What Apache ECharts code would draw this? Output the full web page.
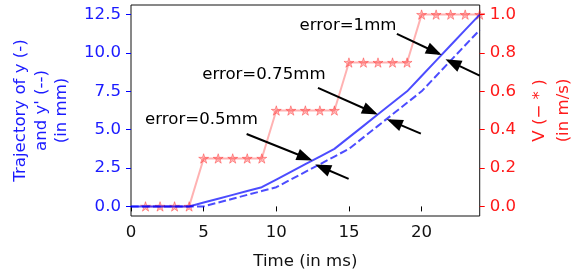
<!DOCTYPE html>
<html>
<head>
<meta charset="utf-8">
<script src="https://cdn.jsdelivr.net/npm/echarts@6/dist/echarts.min.js"></script>
<style>
html,body{margin:0;padding:0;background:#fff;}
#chart{width:584px;height:276px;}
</style>
</head>
<body>
<div id="chart"></div>
<script>
// ---- data ----
const timeMs = [0,1,2,3,4,5,6,7,8,9,10,11,12,13,14,15,16,17,18,19,20,21,22,23,24];
const trajY = [0,0,0,0,0,0.25,0.5,0.75,1.0,1.25,1.75,2.25,2.75,3.25,3.75,4.5,5.25,6.0,6.75,7.5,8.5,9.5,10.5,11.5,12.5];
const trajYPrime = [0,0,0,0,0,0,0.25,0.5,0.75,1.0,1.25,1.75,2.25,2.75,3.25,3.75,4.5,5.25,6.0,6.75,7.5,8.5,9.5,10.5,11.5];
const velTime = [1,2,3,4,5,6,7,8,9,10,11,12,13,14,15,16,17,18,19,20,21,22,23,24];
const velocity = [0,0,0,0,0.25,0.25,0.25,0.25,0.25,0.5,0.5,0.5,0.5,0.5,0.75,0.75,0.75,0.75,0.75,1.0,1.0,1.0,1.0,1.0];
const xTicks = [0,5,10,15,20];
const yLeftTicks = [0,2.5,5,7.5,10,12.5];
const yRightTicks = [0,0.2,0.4,0.6,0.8,1.0];
// annotation texts [t, y(mm), text]
const annTexts = [
  [11.6, 11.75, 'error=1mm'],
  [4.9, 8.6, 'error=0.75mm'],
  [0.97, 5.65, 'error=0.5mm']
];
// arrows: [tailT, tailY, tipT, tipY]
const annArrows = [
  [18.3, 11.24, 21.2, 9.95],
  [24.0, 8.52, 21.83, 9.5],
  [12.87, 7.72, 16.8, 6.07],
  [19.95, 4.74, 17.8, 5.61],
  [7.96, 4.72, 12.3, 3.07],
  [14.98, 1.79, 12.87, 2.65]
];

const FONT = 'DejaVu Sans';
const FS = 16.6;
const BLUE = '#1a1aff';
const RED = '#ff1a1a';
const star = 'path://M50,0 L61.2,34.5 L97.6,34.5 L68.2,55.9 L79.4,90.5 L50,69.1 L20.6,90.5 L31.8,55.9 L2.4,34.5 L38.8,34.5 Z';

const chart = echarts.init(document.getElementById('chart'), null, {renderer:'canvas'});
const pair = (xs, ys) => xs.map((x,i)=>[x, ys[i]]);

chart.setOption({
  animation:false,
  textStyle:{fontFamily:FONT},
  grid:{left:131, right:100, top:5, bottom:60, show:true, borderColor:'#111', borderWidth:1, containLabel:false},
  xAxis:{
    type:'value', min:0, max:24,
    axisLine:{show:false},
    splitLine:{show:false},
    axisTick:{show:true, length:5, lineStyle:{color:'#000'}, customValues:xTicks},
    axisLabel:{fontFamily:FONT, fontSize:FS, color:'#111', margin:8, customValues:xTicks, formatter:v=>String(v)},
    name:'Time (in ms)', nameLocation:'middle', nameGap:37,
    nameTextStyle:{fontFamily:FONT, fontSize:FS, color:'#111'}
  },
  yAxis:[{
    type:'value', min:-0.625, max:13.125, position:'left',
    axisLine:{show:false},
    splitLine:{show:false},
    axisTick:{show:true, length:5, lineStyle:{color:'#0000ff'}, customValues:yLeftTicks},
    axisLabel:{fontFamily:FONT, fontSize:FS, color:BLUE, margin:10, customValues:yLeftTicks, formatter:v=>v.toFixed(1)},
    name:"Trajectory of y (-)\nand y' (--)\n(in mm)", nameLocation:'middle', nameRotate:90, nameGap:59,
    nameTextStyle:{fontFamily:FONT, fontSize:FS, color:BLUE, lineHeight:20.5, align:'center'}
  },{
    type:'value', min:-0.05, max:1.05, position:'right',
    axisLine:{show:false},
    splitLine:{show:false},
    axisTick:{show:true, length:5, lineStyle:{color:'#ff0000'}, customValues:yRightTicks},
    axisLabel:{fontFamily:FONT, fontSize:FS, color:RED, margin:10, customValues:yRightTicks, formatter:v=>v.toFixed(1)},
    name:"V (− * )\n(in m/s)", nameLocation:'middle', nameRotate:90, nameGap:47,
    nameTextStyle:{fontFamily:FONT, fontSize:FS, color:RED, lineHeight:24.5, align:'center'}
  }],
  series:[
    {
      type:'line', yAxisIndex:1, data:pair(velTime, velocity),
      symbol:star, symbolSize:10, symbolKeepAspect:true, showSymbol:true,
      lineStyle:{color:'rgba(255,0,0,0.3)', width:2},
      itemStyle:{color:'rgba(255,0,0,0.28)', borderColor:'rgba(255,0,0,0.35)', borderWidth:1},
      emphasis:{disabled:true}, silent:true, z:2
    },
    {
      type:'line', yAxisIndex:0, data:pair(timeMs, trajY),
      symbol:'none', lineStyle:{color:'rgba(0,0,255,0.7)', width:2},
      emphasis:{disabled:true}, silent:true, z:3
    },
    {
      type:'line', yAxisIndex:0, data:pair(timeMs, trajYPrime),
      symbol:'none', lineStyle:{color:'rgba(0,0,255,0.7)', width:2, type:[7.7,3.3]},
      emphasis:{disabled:true}, silent:true, z:3
    },
    {
      type:'scatter', yAxisIndex:0, symbolSize:0,
      itemStyle:{opacity:1, color:'#000'},
      data:annTexts.map(a=>({value:[a[0],a[1]], name:a[2]})),
      label:{show:true, position:'inside', align:'left', verticalAlign:'middle', formatter:p=>p.name,
             fontFamily:FONT, fontSize:FS, color:'#000', opacity:1, textBorderWidth:0},
      emphasis:{disabled:true}, silent:true, z:5, clip:false,
      markLine:{
        silent:true, animation:false,
        symbol:['none','triangle'], symbolSize:[12,16], symbolOffset:[[0,0],[0,5]],
        label:{show:false},
        lineStyle:{color:'#000', width:2, type:'solid'},
        emphasis:{disabled:true},
        data:annArrows.map(a=>[{coord:[a[0],a[1]]},{coord:[a[2],a[3]]}])
      }
    }
  ]
});
</script>
</body>
</html>
